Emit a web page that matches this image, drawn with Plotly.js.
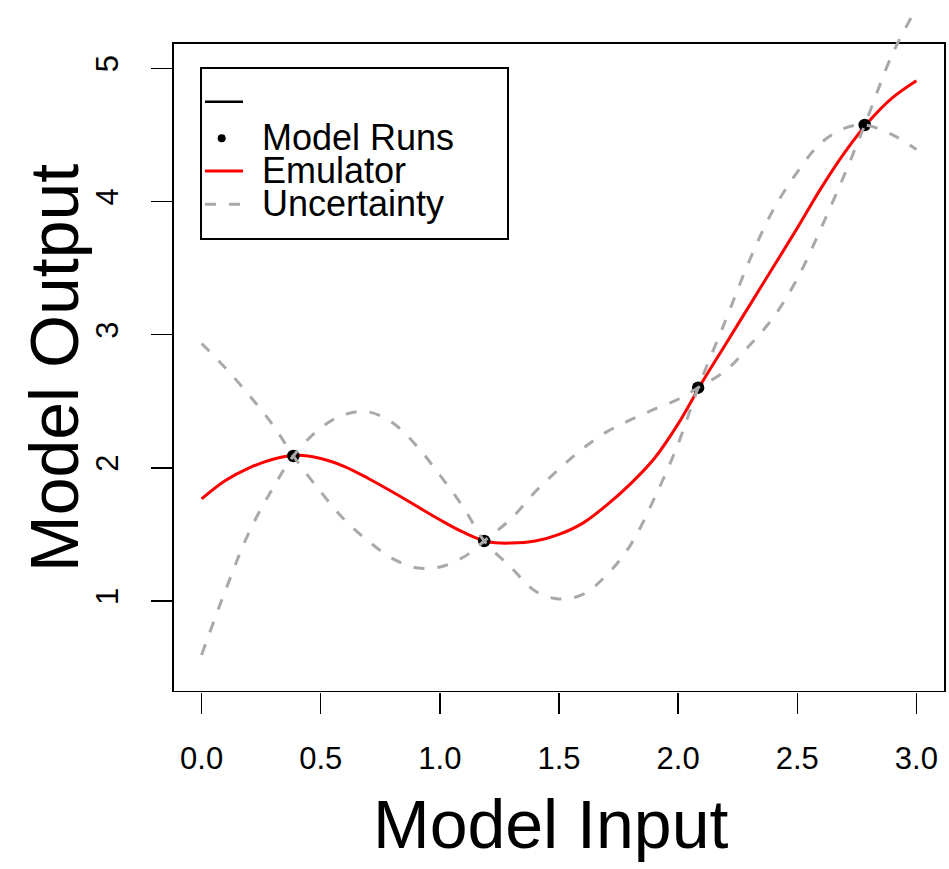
<!DOCTYPE html>
<html>
<head>
<meta charset="utf-8">
<script src="https://cdn.plot.ly/plotly-3.0.1.min.js"></script>
<style>
  html, body { margin: 0; padding: 0; background: #ffffff; }
  #chart { width: 949px; height: 869px; }
</style>
</head>
<body>
<div id="chart"></div>
<script>
// ---- data ----
var runX = [0.385, 1.186, 2.084, 2.783];
var runY = [2.089, 1.451, 2.602, 4.574];

var emuX = [0, 0.1, 0.2, 0.3, 0.4, 0.5, 0.6, 0.7, 0.8, 0.9, 1.0,
            1.1, 1.2, 1.3, 1.4, 1.5, 1.6, 1.7, 1.8, 1.9, 2.0,
            2.1, 2.2, 2.3, 2.4, 2.5, 2.6, 2.7, 2.8, 2.9, 3.0];
var emuY = [1.767, 1.905, 2.00, 2.065, 2.094, 2.07, 2.01, 1.92, 1.82, 1.715, 1.61,
            1.515, 1.445, 1.435, 1.45, 1.50, 1.585, 1.72, 1.88, 2.07, 2.33,
            2.64, 2.93, 3.22, 3.51, 3.80, 4.10, 4.37, 4.60, 4.78, 4.907];

var bandX = [0, 0.1, 0.2, 0.3, 0.385, 0.5, 0.6, 0.7, 0.8, 0.9, 1.0,
             1.1, 1.186, 1.3, 1.4, 1.5, 1.6, 1.7, 1.8, 1.9, 2.0,
             2.084, 2.2, 2.3, 2.4, 2.5, 2.6, 2.7, 2.783, 2.9, 3.0];
var upperY = [2.934, 2.75, 2.545, 2.32, 2.089, 2.30, 2.40, 2.42, 2.34, 2.17, 1.945,
              1.70, 1.451, 1.62, 1.82, 1.99, 2.145, 2.27, 2.36, 2.44, 2.515,
              2.602, 3.11, 3.56, 3.94, 4.22, 4.44, 4.55, 4.574, 5.11, 5.45];
var lowerY = [0.595, 1.08, 1.52, 1.85, 2.089, 1.82, 1.61, 1.45, 1.32, 1.25, 1.255,
              1.33, 1.451, 1.25, 1.075, 1.015, 1.05, 1.195, 1.42, 1.77, 2.18,
              2.602, 2.73, 2.92, 3.13, 3.42, 3.80, 4.21, 4.574, 4.50, 4.39];

var xTickVals = [0, 0.5, 1, 1.5, 2, 2.5, 3];
var xTickText = ["0.0", "0.5", "1.0", "1.5", "2.0", "2.5", "3.0"];
var yTickVals = [1, 2, 3, 4, 5];
var yTickText = ["1", "2", "3", "4", "5"];

var legendLabels = ["", "Model Runs", "Emulator", "Uncertainty"];
var xTitle = "Model Input";
var yTitle = "Model Output";

// ---- styling ----
var FONT = "Liberation Sans, Arial, Helvetica, sans-serif";
var GRAY = "#A9A9A9";
var DASH = "11px,13px";

// The band curves cross at every model run; build the two smooth crossing
// strands (upper/lower swap at each run) so the spline keeps the X shape.
function strand(startUpper) {
  return bandX.map(function (x, i) {
    var k = runX.filter(function (r) { return r < x - 1e-9; }).length;
    var useUpper = ((k % 2) === 0) === startUpper;
    return useUpper ? upperY[i] : lowerY[i];
  });
}

var traces = [
  { x: emuX, y: emuY, type: "scatter", mode: "lines",
    line: { color: "#FF0000", width: 3, shape: "spline", smoothing: 1 },
    hoverinfo: "skip", showlegend: false },
  { x: runX, y: runY, type: "scatter", mode: "markers",
    marker: { color: "#000000", size: 12.5 }, showlegend: false },
  { x: bandX, y: strand(true), type: "scatter", mode: "lines",
    line: { color: GRAY, width: 3, dash: DASH, shape: "spline", smoothing: 1 },
    showlegend: false },
  { x: bandX, y: strand(false), type: "scatter", mode: "lines",
    line: { color: GRAY, width: 3, dash: DASH, shape: "spline", smoothing: 1 },
    showlegend: false }
];

// geometry (pixels of the 949x869 page)
var L = 173, R = 4, T = 5, B = 177;
var W = 949 - L - R, H = 869 - T - B;
function px(xp) { return (xp - L) / W; }
function py(yp) { return (869 - B - yp) / H; }

var shapes = [
  // plot frame
  { type: "rect", xref: "paper", yref: "y", x0: 0, x1: 1, y0: 0.317, y1: 5.19,
    line: { color: "#000000", width: 2 }, layer: "below" },
  // legend frame
  { type: "rect", xref: "paper", yref: "paper",
    x0: px(201), x1: px(508), y0: py(239), y1: py(68),
    line: { color: "#000000", width: 2 }, fillcolor: "rgba(0,0,0,0)" }
];
var rowsY = [101.7, 138.3, 171, 204.3];
// legend samples
shapes.push({ type: "line", xref: "paper", yref: "paper",
  x0: px(205), x1: px(243), y0: py(rowsY[0]), y1: py(rowsY[0]),
  line: { color: "#000000", width: 2.5 } });
shapes.push({ type: "circle", xref: "paper", yref: "paper",
  x0: px(221.7 - 4), x1: px(221.7 + 4), y0: py(rowsY[1] + 4), y1: py(rowsY[1] - 4),
  fillcolor: "#000000", line: { color: "#000000", width: 0 } });
shapes.push({ type: "line", xref: "paper", yref: "paper",
  x0: px(205), x1: px(243), y0: py(rowsY[2]), y1: py(rowsY[2]),
  line: { color: "#FF0000", width: 3 } });
shapes.push({ type: "line", xref: "paper", yref: "paper",
  x0: px(205), x1: px(243), y0: py(rowsY[3]), y1: py(rowsY[3]),
  line: { color: GRAY, width: 3, dash: DASH } });

var annotations = [];
for (var i = 0; i < legendLabels.length; i++) {
  if (!legendLabels[i]) continue;
  annotations.push({ xref: "paper", yref: "paper", x: px(260), y: py(rowsY[i] - 1),
    xanchor: "left", yanchor: "middle", showarrow: false, text: legendLabels[i],
    font: { family: FONT, size: 36, color: "#000000" } });
}
annotations.push({ xref: "paper", yref: "paper", x: px(550), y: py(824),
  xanchor: "center", yanchor: "middle", showarrow: false, text: xTitle,
  font: { family: FONT, size: 68, color: "#000000" } });
annotations.push({ xref: "paper", yref: "paper", x: px(54), y: py(368),
  xanchor: "center", yanchor: "middle", showarrow: false, text: yTitle, textangle: -90,
  font: { family: FONT, size: 68, color: "#000000" } });

var layout = {
  width: 949, height: 869,
  margin: { l: L, r: R, t: T, b: B, pad: 0 },
  paper_bgcolor: "#ffffff", plot_bgcolor: "#ffffff",
  font: { family: FONT, color: "#000000" },
  showlegend: false,
  xaxis: {
    range: [-0.12, 3.12], showgrid: false, zeroline: false, showline: false,
    tickmode: "array", tickvals: xTickVals, ticktext: xTickText,
    ticks: "outside", ticklen: 21, tickwidth: 1.5, tickcolor: "#000000",
    tickfont: { family: FONT, size: 31, color: "#000000" },
    ticklabelstandoff: 18, fixedrange: true
  },
  yaxis: {
    range: [0.317, 5.475], showgrid: false, zeroline: false, showline: false,
    tickmode: "array", tickvals: yTickVals, ticktext: yTickText, tickangle: -90,
    ticks: "outside", ticklen: 21, tickwidth: 1.5, tickcolor: "#000000",
    tickfont: { family: FONT, size: 31, color: "#000000" },
    ticklabelstandoff: 21, fixedrange: true
  },
  shapes: shapes,
  annotations: annotations
};

Plotly.newPlot("chart", traces, layout, { displayModeBar: false, staticPlot: true });
</script>
</body>
</html>
